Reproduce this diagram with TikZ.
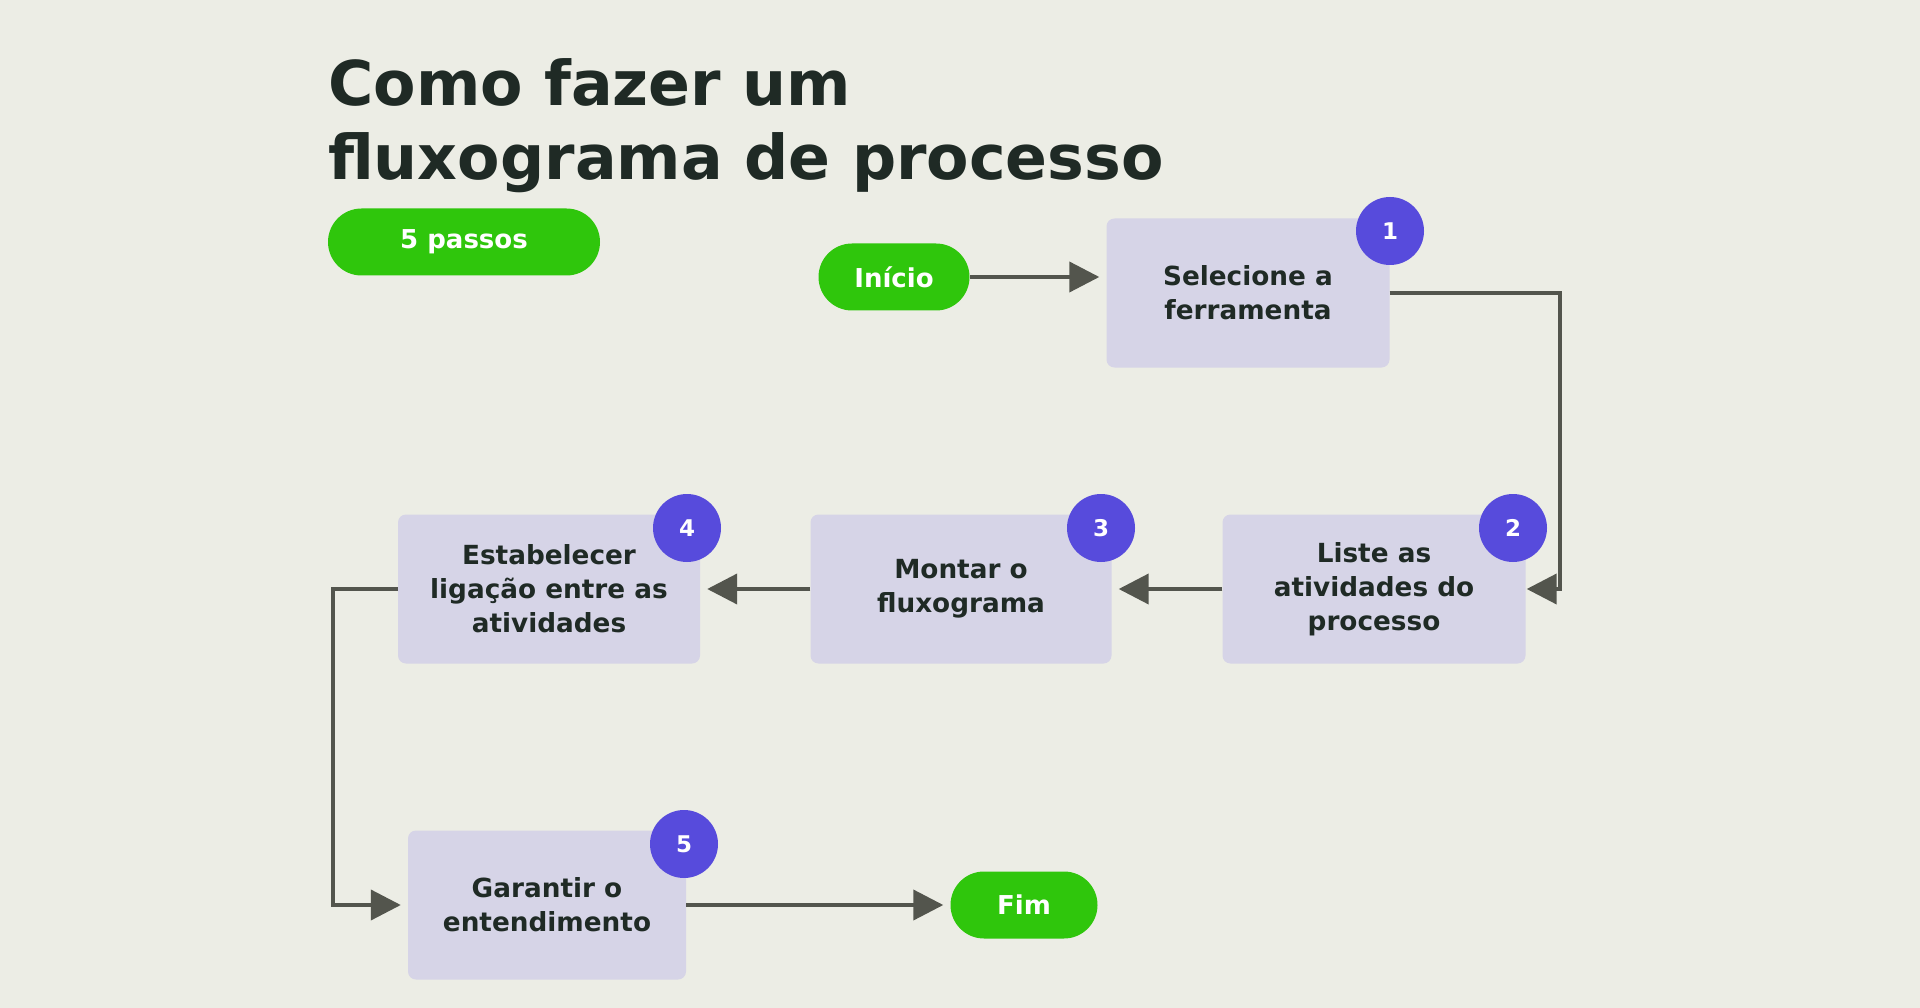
\documentclass[tikz,border=0pt]{standalone}
\usepackage{fontspec}
\setmainfont{DejaVu Sans}
\usetikzlibrary{arrows.meta,shapes.misc,calc}
\definecolor{bgc}{HTML}{ECEDE5}
\definecolor{boxc}{HTML}{D6D4E7}
\definecolor{badgec}{HTML}{574BDC}
\definecolor{greenc}{HTML}{2FC60C}
\definecolor{arrc}{HTML}{53554D}
\definecolor{txtc}{HTML}{1F2A25}
\tikzset{
  stepbox/.style={fill=boxc, rounded corners=8pt, minimum width=#1, minimum height=149pt, inner sep=0pt, align=center, text=txtc, font=\fontsize{26.3}{34}\selectfont\bfseries},
  pill/.style={rounded rectangle, fill=greenc, minimum width=#1, minimum height=67pt, inner sep=0pt, text=white, font=\fontsize{26}{32}\selectfont\bfseries},
  badge/.style={circle, fill=badgec, minimum size=68pt, inner sep=0pt, text=white, font=\fontsize{23}{28}\selectfont\bfseries},
  titletxt/.style={anchor=base west, inner sep=0pt, text=txtc, font=\fontsize{61.8}{73}\selectfont\bfseries},
  arr/.style={draw=arrc, line width=4pt, shorten >=7pt, -{Triangle[length=30pt,width=30pt]}},
}
\begin{document}
\begin{tikzpicture}[x=1pt,y=-1pt]
\fill[bgc] (0,0) rectangle (1920,1008);
\useasboundingbox (0,0) rectangle (1920,1008);
\node[titletxt] (t1) at (328,106) {Como fazer um};
\node[titletxt] (t2) at (328,180) {fluxograma de processo};
\node[pill=272pt] (passos) at (464,242) {5 passos};
\node[pill=151pt] (ini) at (894,277) {Início};
\node[stepbox=283pt] (b1) at (1248,293) {Selecione a\\ferramenta};
\node[stepbox=303pt] (b2) at (1374,589) {Liste as\\atividades do\\processo};
\node[stepbox=301pt] (b3) at (961,589) {Montar o\\fluxograma};
\node[stepbox=302pt] (b4) at (549,589) {Estabelecer\\ligação entre as\\atividades};
\node[stepbox=278pt] (b5) at (547,905) {Garantir o\\entendimento};
\node[pill=147pt] (fim) at (1024,905) {Fim};
\draw[arr] (ini.east) -- (ini.east -| b1.west);
\draw[arr, shorten >=1pt] (b1.east) -- ++(170,0) |- (b2.east);
\draw[arr] (b2.west) -- (b3.east);
\draw[arr] (b3.west) -- (b4.east);
\draw[arr] (b4.west) -- ++(-65,0) |- (b5.west);
\draw[arr] (b5.east) -- (fim.west);
\node[badge] (n1) at (1390,231) {1};
\node[badge] (n2) at (1513,528) {2};
\node[badge] (n3) at (1101,528) {3};
\node[badge] (n4) at (687,528) {4};
\node[badge] (n5) at (684,844) {5};
\end{tikzpicture}
\end{document}
